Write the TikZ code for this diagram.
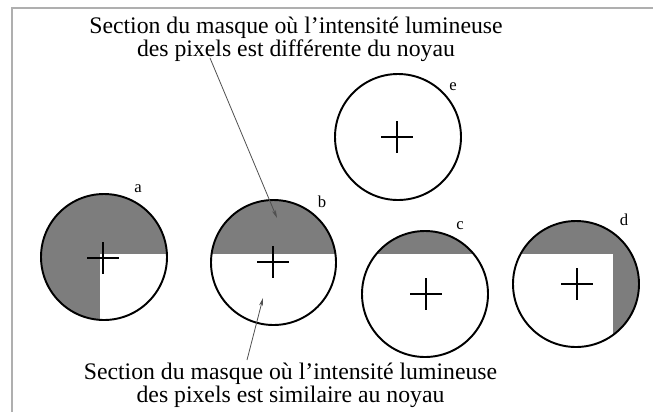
\documentclass[tikz,border=0pt]{standalone}
\usepackage{fontspec}
\setmainfont{Liberation Serif}
\usetikzlibrary{arrows.meta}
\definecolor{shadecol}{RGB}{125,125,125}
\definecolor{framecol}{RGB}{175,175,175}
\definecolor{arrowcol}{RGB}{80,80,80}
\begin{document}
\begin{tikzpicture}[x=0.75pt,y=-0.75pt,
  ring/.style={line width=1.45pt},
  crossline/.style={line width=1.5pt},
  plus/.pic={\draw[crossline] (-16,0) -- (16,0) (0,-16) -- (0,16);},
  caption/.style={align=center,inner sep=0pt,font=\fontsize{17.8}{15}\selectfont},
  lab/.style={inner sep=0pt,font=\fontsize{12.5}{13}\selectfont},
  pointer/.style={draw=arrowcol,line width=0.6pt,-{Stealth[length=6pt,width=3pt]}}]
\useasboundingbox (0,0) rectangle (653,412);
% frame
\draw[framecol,line width=1.2pt] (12,412) -- (12,8) -- (653,8);
% circle a
\begin{scope}
  \clip (104,257) circle[radius=63];
  \fill[shadecol] (30,180) rectangle (180,254);
  \fill[shadecol] (30,254) rectangle (100,330);
\end{scope}
\draw[ring] (104,257) circle[radius=63];
\pic at (103,258) {plus};
% circle b
\begin{scope}
  \clip (273.5,262.5) circle[radius=62.5];
  \fill[shadecol] (200,190) rectangle (350,254);
\end{scope}
\draw[ring] (273.5,262.5) circle[radius=62.5];
\pic at (273,262) {plus};
% circle c
\begin{scope}
  \clip (425,294) circle[radius=63];
  \fill[shadecol] (350,220) rectangle (500,254);
\end{scope}
\draw[ring] (425,294) circle[radius=63];
\pic at (426,294) {plus};
% circle d
\begin{scope}
  \clip (576,284) circle[radius=63];
  \fill[shadecol] (500,210) rectangle (650,254);
  \fill[shadecol] (613,254) rectangle (650,360);
\end{scope}
\draw[ring] (576,284) circle[radius=63];
\pic at (577,284) {plus};
% circle e
\draw[ring] (398,137) circle[radius=63];
\pic at (397,137) {plus};
% labels
\node[lab] (la) at (138,189) {a};
\node[lab] (lb) at (322,202) {b};
\node[lab] (lc) at (460,226) {c};
\node[lab] (ld) at (624,220) {d};
\node[lab] (le) at (453,87) {e};
% captions
\node[caption,anchor=north] (top) at (296,16.5) {Section du masque où l’intensité lumineuse\\des pixels est différente du noyau};
\node[caption,anchor=north] (bot) at (290.5,363) {Section du masque où l’intensité lumineuse\\des pixels est similaire au noyau};
% pointers
\coordinate (t1) at (210,58);
\coordinate (t2) at (277,218);
\coordinate (b1) at (247,360);
\coordinate (b2) at (263,298);
\draw[pointer] (t1) -- (t2);
\draw[pointer] (b1) -- (b2);
\end{tikzpicture}
\end{document}
